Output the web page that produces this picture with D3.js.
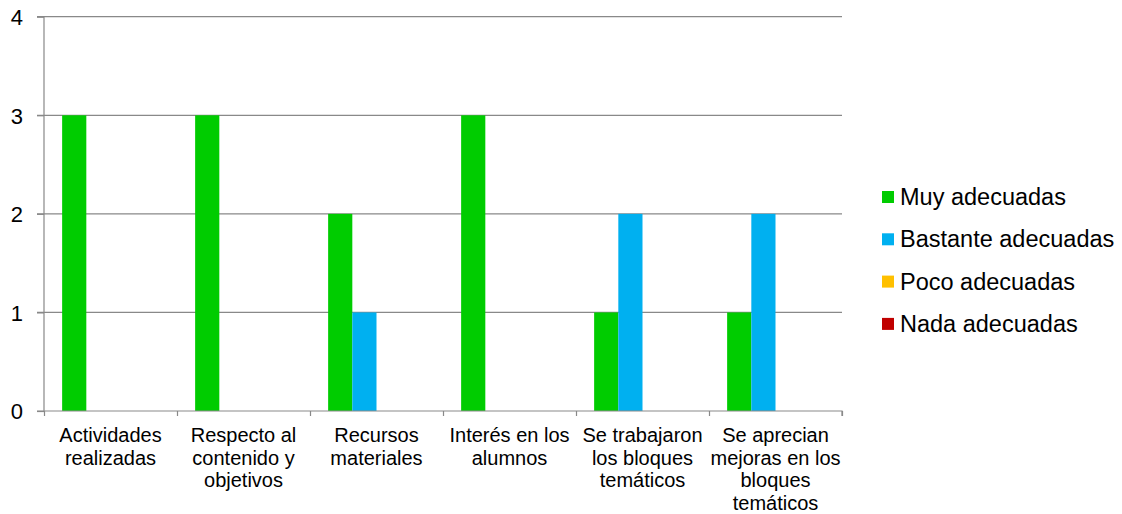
<!DOCTYPE html>
<html><head><meta charset="utf-8">
<script src="https://cdn.jsdelivr.net/npm/d3@7"></script>
<style>html,body{margin:0;padding:0;background:#fff;}svg{display:block;font-family:"Liberation Sans",Arial,sans-serif;}</style>
</head><body>
<svg id="c" width="1122" height="514"></svg>
<script>
const categories = [
  ["Actividades","realizadas"],
  ["Respecto al","contenido y","objetivos"],
  ["Recursos","materiales"],
  ["Interés en los","alumnos"],
  ["Se trabajaron","los bloques","temáticos"],
  ["Se aprecian","mejoras en los","bloques","temáticos"]
];
const seriesNames = ["Muy adecuadas","Bastante adecuadas","Poco adecuadas","Nada adecuadas"];
const seriesColors = ["#00CC00","#00B0F0","#FFC000","#C00000"];
const muy = [3,3,2,3,1,1];
const bastante = [0,0,1,0,2,2];
const poco = [0,0,0,0,0,0];
const nada = [0,0,0,0,0,0];
const values = [muy, bastante, poco, nada];
const yTicks = [0,1,2,3,4];

const svg = d3.select("#c");
const L = 44, R = 842, T = 16.7, B = 411;
const catIdx = categories.map((d,i)=>i);
const x0 = d3.scaleBand().domain(catIdx).range([L,R]).padding(0);
const x1 = d3.scaleBand().domain(d3.range(seriesNames.length)).range([0,x0.bandwidth()]).paddingInner(0).paddingOuter(0.75);
const y = d3.scaleLinear().domain([0,4]).range([B,T]);
const grey = "#898989";

// gridlines
svg.append("g").selectAll("line").data(yTicks.filter(d=>d>0)).join("line")
  .attr("x1",L-7).attr("x2",R).attr("y1",d=>y(d)).attr("y2",d=>y(d))
  .attr("stroke",grey).attr("stroke-width",1.2);

// bars
const g = svg.append("g");
values.forEach((vals,si)=>{
  g.selectAll(null).data(vals.map((v,ci)=>({v,ci}))).join("rect")
    .attr("x",d=>x0(d.ci)+x1(si)).attr("width",x1.bandwidth())
    .attr("y",d=>y(d.v)).attr("height",d=>y(0)-y(d.v))
    .attr("fill",seriesColors[si]);
});

// y axis
const ya = svg.append("g").attr("transform",`translate(${L},0)`)
  .call(d3.axisLeft(y).tickValues(yTicks).tickSize(7).tickPadding(14).tickFormat(d3.format("d")));
ya.select(".domain").attr("stroke",grey).attr("stroke-width",1.2).attr("d",`M-7,${y(4)}H0V${y(0)}`);
ya.selectAll(".tick line").attr("stroke",grey).attr("stroke-width",1.2);
ya.selectAll(".tick text").attr("font-size",22).attr("fill","#000").attr("font-family","Liberation Sans, Arial, sans-serif").attr("dy","0.36em");

// x axis
const xb = d3.scaleLinear().domain([0,categories.length]).range([L,R]);
const xa = svg.append("g").attr("transform",`translate(0,${B})`)
  .call(d3.axisBottom(xb).tickValues(d3.range(categories.length+1)).tickSize(5).tickFormat(""));
xa.select(".domain").attr("stroke",grey).attr("stroke-width",1.2).attr("d",`M${L-7},0H${R}V5`);
xa.selectAll(".tick line").attr("stroke",grey).attr("stroke-width",1.2);

// category labels
const lab = svg.append("g").attr("font-size",20).attr("fill","#000").attr("text-anchor","middle");
categories.forEach((lines,ci)=>{
  const t = lab.append("text").attr("x",x0(ci)+x0.bandwidth()/2).attr("y",442);
  lines.forEach((ln,li)=>{
    t.append("tspan").attr("x",x0(ci)+x0.bandwidth()/2).attr("y",442+li*22.7).text(ln);
  });
});

// legend
const lg = svg.append("g");
seriesNames.forEach((n,i)=>{
  const by = 205 + i*42.3;
  lg.append("rect").attr("x",882).attr("y",by-14).attr("width",12).attr("height",12).attr("fill",seriesColors[i]);
  lg.append("text").attr("x",900).attr("y",by).attr("font-size",23.5).attr("fill","#000").text(n);
});
</script>
</body></html>
